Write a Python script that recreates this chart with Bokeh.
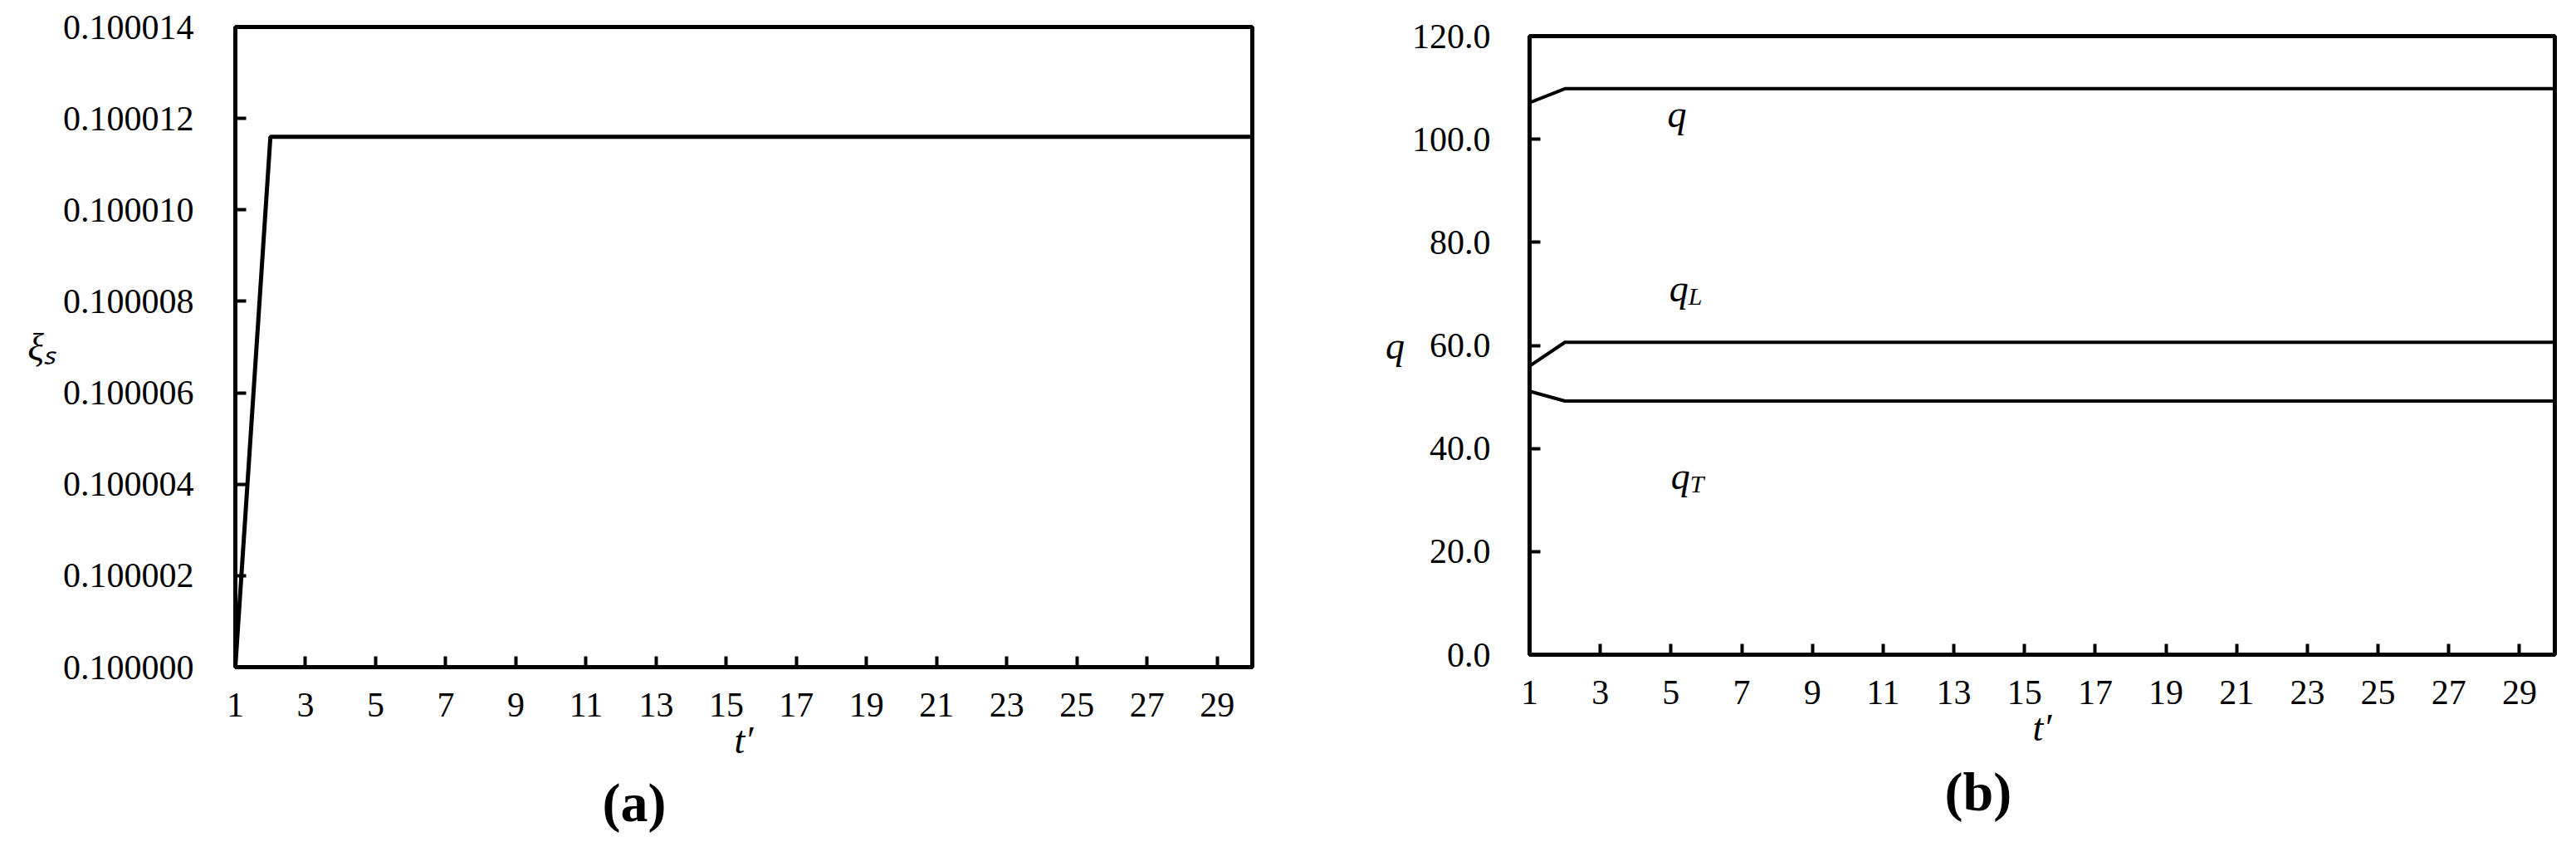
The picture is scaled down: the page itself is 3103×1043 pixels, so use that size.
from bokeh.plotting import figure
from bokeh.layouts import row
from bokeh.models import Range1d, FixedTicker, PrintfTickFormatter
from bokeh.core.properties import value
from bokeh.embed import file_html
from bokeh.resources import INLINE

# ---------------- data ----------------
t = [1, 2, 3, 4, 5, 6, 7, 8, 9, 10, 11, 12, 13, 14, 15,
     16, 17, 18, 19, 20, 21, 22, 23, 24, 25, 26, 27, 28, 29, 30]

xi_s = [0.1000000, 0.1000116, 0.1000116, 0.1000116, 0.1000116, 0.1000116,
        0.1000116, 0.1000116, 0.1000116, 0.1000116, 0.1000116, 0.1000116,
        0.1000116, 0.1000116, 0.1000116, 0.1000116, 0.1000116, 0.1000116,
        0.1000116, 0.1000116, 0.1000116, 0.1000116, 0.1000116, 0.1000116,
        0.1000116, 0.1000116, 0.1000116, 0.1000116, 0.1000116, 0.1000116]

q = [107.1, 109.8, 109.8, 109.8, 109.8, 109.8, 109.8, 109.8, 109.8, 109.8,
     109.8, 109.8, 109.8, 109.8, 109.8, 109.8, 109.8, 109.8, 109.8, 109.8,
     109.8, 109.8, 109.8, 109.8, 109.8, 109.8, 109.8, 109.8, 109.8, 109.8]

q_L = [56.0, 60.6, 60.6, 60.6, 60.6, 60.6, 60.6, 60.6, 60.6, 60.6,
       60.6, 60.6, 60.6, 60.6, 60.6, 60.6, 60.6, 60.6, 60.6, 60.6,
       60.6, 60.6, 60.6, 60.6, 60.6, 60.6, 60.6, 60.6, 60.6, 60.6]

q_T = [51.1, 49.2, 49.2, 49.2, 49.2, 49.2, 49.2, 49.2, 49.2, 49.2,
       49.2, 49.2, 49.2, 49.2, 49.2, 49.2, 49.2, 49.2, 49.2, 49.2,
       49.2, 49.2, 49.2, 49.2, 49.2, 49.2, 49.2, 49.2, 49.2, 49.2]

x_ticks = [1, 3, 5, 7, 9, 11, 13, 15, 17, 19, 21, 23, 25, 27, 29]
xi_ticks = [0.100000, 0.100002, 0.100004, 0.100006, 0.100008, 0.100010, 0.100012, 0.100014]
q_ticks = [0, 20, 40, 60, 80, 100, 120]

# series labels inside panel (b)
lab_x = [4.9, 4.95, 5.0]
lab_y = [104.8, 71.0, 34.6]
lab_main = ["q", "q", "q"]
lab_sub = ["", "L", "T"]

SERIF = "Liberation Serif"
TICK_SIZE = "42px"
LABEL_SIZE = "46px"


def style(p, lw_axis=5):
    p.toolbar_location = None
    p.frame_align = False
    p.background_fill_color = "white"
    p.border_fill_color = "white"
    p.outline_line_color = "black"
    p.outline_line_width = lw_axis
    p.xgrid.visible = False
    p.ygrid.visible = False
    for ax in (p.xaxis[0], p.yaxis[0]):
        ax.axis_line_color = "black"
        ax.axis_line_width = lw_axis
        ax.major_tick_line_color = "black"
        ax.major_tick_line_width = 4
        ax.major_tick_in = 13
        ax.major_tick_out = 0
        ax.minor_tick_line_color = None
        ax.major_label_text_font = SERIF
        ax.major_label_text_font_size = TICK_SIZE
        ax.major_label_text_color = "black"
        ax.axis_label_text_font = SERIF
        ax.axis_label_text_font_style = "italic"
        ax.axis_label_text_font_size = LABEL_SIZE
        ax.axis_label_text_color = "black"
    p.xaxis[0].ticker = FixedTicker(ticks=x_ticks)
    p.xaxis[0].major_label_standoff = 31
    p.xaxis[0].axis_label = "t\u2032"
    p.xaxis[0].axis_label_standoff = 0
    p.yaxis[0].axis_label_orientation = "horizontal"
    p.yaxis[0].axis_label_standoff = 6
    p.title.text_font = SERIF
    p.title.text_font_style = "bold"
    p.title.text_font_size = "66px"
    p.title.text_color = "black"
    p.title.align = "left"


# ---------------- panel (a) ----------------
p1 = figure(width=1592, height=1035, output_backend="svg", toolbar_location=None,
            x_range=Range1d(1, 30), y_range=Range1d(0.100000, 0.100014),
            title="(a)", title_location="below",
            min_border_left=283, min_border_right=84,
            min_border_top=32, min_border_bottom=232)
style(p1)
p1.yaxis[0].ticker = FixedTicker(ticks=xi_ticks)
p1.yaxis[0].formatter = PrintfTickFormatter(format="%.6f")
p1.yaxis[0].major_label_standoff = 50
p1.yaxis[0].axis_label = "\u03be\u209b"
p1.title.offset = 442
p1.title.standoff = 16
p1.line(t, xi_s, line_color="black", line_width=5)

# ---------------- panel (b) ----------------
p2 = figure(width=1495, height=1035, output_backend="svg", toolbar_location=None,
            x_range=Range1d(1, 30), y_range=Range1d(0, 120),
            title="(b)", title_location="below",
            min_border_left=250, min_border_right=10,
            min_border_top=43, min_border_bottom=247)
style(p2)
p2.yaxis[0].ticker = FixedTicker(ticks=q_ticks)
p2.yaxis[0].formatter = PrintfTickFormatter(format="%.1f")
p2.yaxis[0].major_label_standoff = 47
p2.yaxis[0].axis_label = "q"
p2.title.offset = 500
p2.title.standoff = 20

for series in (q, q_L, q_T):
    p2.line(t, series, line_color="black", line_width=4)

p2.text(x=lab_x, y=lab_y, text=lab_main, text_font=value(SERIF),
        text_font_style="italic", text_font_size="46px", text_color="black",
        text_align="left", text_baseline="alphabetic")
p2.text(x=lab_x, y=lab_y, text=lab_sub, text_font=value(SERIF),
        text_font_style="italic", text_font_size="30px", text_color="black",
        text_align="left", text_baseline="alphabetic", x_offset=23, y_offset=9)

layout = row(p1, p2, spacing=0)
open("out.html", "w").write(file_html(layout, INLINE))
